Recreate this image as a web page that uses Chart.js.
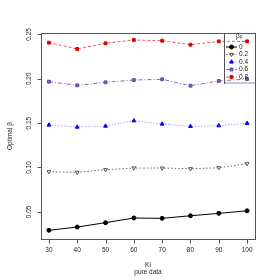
<!DOCTYPE html>
<html>
<head>
<meta charset="utf-8">
<script src="https://cdn.jsdelivr.net/npm/chart.js@4"></script>
<style>
  html, body { margin: 0; padding: 0; background: #fff; }
  #wrap { width: 280px; height: 280px; }
</style>
</head>
<body>
<div id="wrap"><canvas id="c" width="280" height="280"></canvas></div>
<script>
const ki = [30, 40, 50, 60, 70, 80, 90, 100];
const beta0  = [0.0292, 0.0329, 0.0378, 0.0431, 0.0427, 0.0456, 0.0483, 0.0512];
const beta02 = [0.0952, 0.0946, 0.0975, 0.0994, 0.0994, 0.0986, 0.0997, 0.1043];
const beta04 = [0.1479, 0.1456, 0.1467, 0.1527, 0.1490, 0.1464, 0.1471, 0.1498];
const beta06 = [0.1967, 0.1926, 0.1960, 0.1986, 0.1994, 0.1922, 0.1975, 0.1997];
const beta08 = [0.2407, 0.2336, 0.2400, 0.2437, 0.2429, 0.2384, 0.2422, 0.2422];
const seriesNames = ['0', '0.2', '0.4', '0.6', '0.8'];
const xTicks = [30, 40, 50, 60, 70, 80, 90, 100];
const yTicks = [0.05, 0.10, 0.15, 0.20, 0.25];

const FONT = '"Liberation Sans", Arial, sans-serif';
const pts = arr => arr.map((v, i) => ({ x: ki[i], y: v }));

const styles = [
  { line: '#000000', dash: [],          pt: '#000000', fill: '#000000', style: 'circle',   rot: 0,   r: 2 },
  { line: '#666666', dash: [1.5, 2],    pt: '#555555', fill: '#ffffff', style: 'triangle', rot: 180, r: 2.2 },
  { line: '#a9a9ee', dash: [1.5, 1.5],  pt: '#0000ee', fill: '#0000ee', style: 'triangle', rot: 0,   r: 2.2 },
  { line: '#8c6ab4', dash: [4, 2, 1, 2],pt: '#6a45a0', fill: '#7c5ab0', style: 'rect',     rot: 0,   r: 2 },
  { line: '#ee5c5c', dash: [3, 2],      pt: '#dd0000', fill: '#dd0000', style: 'rect',     rot: 0,   r: 2 },
];
const values = [beta0, beta02, beta04, beta06, beta08];

const datasets = values.map((v, i) => ({
  label: seriesNames[i],
  data: pts(v),
  borderColor: styles[i].line,
  borderWidth: 1,
  borderDash: styles[i].dash,
  pointStyle: styles[i].style,
  pointRotation: styles[i].rot,
  pointRadius: styles[i].r,
  pointBackgroundColor: styles[i].fill,
  pointBorderColor: styles[i].pt,
  pointBorderWidth: 1,
  tension: 0,
  fill: false,
}));

const overlay = {
  id: 'rStyle',
  afterDatasetsDraw(ch) {
    const ctx = ch.ctx;
    const xs = ch.scales.x, ys = ch.scales.y;
    const a = ch.chartArea;
    const L = Math.round(a.left) + 0.5, B = Math.round(a.bottom) + 0.5;
    ctx.save();
    // box
    ctx.strokeStyle = '#555';
    ctx.lineWidth = 1;
    ctx.strokeRect(L, Math.round(a.top) + 0.5,
                   Math.round(a.right - a.left), Math.round(a.bottom - a.top));
    // tick marks
    ctx.beginPath();
    xTicks.forEach(t => {
      const x = Math.round(xs.getPixelForValue(t)) + 0.5;
      ctx.moveTo(x, B); ctx.lineTo(x, B + 4);
    });
    yTicks.forEach(t => {
      const y = Math.round(ys.getPixelForValue(t)) + 0.5;
      ctx.moveTo(L, y); ctx.lineTo(L - 4, y);
    });
    ctx.stroke();

    ctx.fillStyle = '#222';
    ctx.font = '6.5px ' + FONT;
    // x tick labels
    ctx.textAlign = 'center'; ctx.textBaseline = 'middle';
    xTicks.forEach(t => ctx.fillText(String(t), xs.getPixelForValue(t), 250));
    // y tick labels (rotated)
    yTicks.forEach(t => {
      ctx.save();
      ctx.translate(29, ys.getPixelForValue(t));
      ctx.rotate(-Math.PI / 2);
      ctx.fillText(t.toFixed(2), 0, 0);
      ctx.restore();
    });
    // axis titles
    ctx.fillText('Ki', (a.left + a.right) / 2, 265);
    ctx.fillText('pure data', (a.left + a.right) / 2, 272);
    ctx.save();
    ctx.translate(10, (a.top + a.bottom) / 2);
    ctx.rotate(-Math.PI / 2);
    ctx.fillText('Optimal β', 0, 0);
    ctx.restore();

    // legend
    const lx = 224, ly = Math.round(a.top), lw = Math.round(a.right) - lx, lh = 50;
    ctx.strokeStyle = '#555';
    ctx.strokeRect(lx + 0.5, ly + 0.5, lw, lh);
    ctx.fillStyle = '#c8c8c8';
    ctx.fillRect(lx + 1, ly + lh - 1, lw - 1, 2);
    ctx.fillStyle = '#222';
    ctx.textAlign = 'left';
    ctx.fillText('β', 236, ly + 3);
    ctx.font = '4.5px ' + FONT;
    ctx.fillText('F', 240, ly + 5);
    ctx.font = '6.5px ' + FONT;
    ch.data.datasets.forEach((ds, i) => {
      const y = ly + 14 + i * 7.5;
      ctx.strokeStyle = ds.borderColor;
      ctx.setLineDash(ds.borderDash);
      ctx.beginPath(); ctx.moveTo(226, y); ctx.lineTo(237, y); ctx.stroke();
      ctx.setLineDash([]);
      ctx.fillStyle = ds.pointBackgroundColor;
      ctx.strokeStyle = ds.pointBorderColor;
      Chart.helpers.drawPoint(ctx, {
        pointStyle: ds.pointStyle, rotation: ds.pointRotation,
        radius: ds.pointRadius, borderWidth: 1
      }, 231.5, y);
      ctx.fillStyle = '#222';
      ctx.fillText(ds.label, 239, y);
    });
    ctx.restore();
  }
};

new Chart(document.getElementById('c'), {
  type: 'line',
  data: { datasets },
  options: {
    responsive: false,
    animation: false,
    layout: { padding: { top: 33, right: 25, left: 0, bottom: 0 } },
    plugins: { legend: { display: false }, tooltip: { enabled: false } },
    scales: {
      x: {
        type: 'linear', min: 27.2, max: 102.8,
        afterBuildTicks: s => { s.ticks = xTicks.map(v => ({ value: v })); },
        afterFit: s => { s.height = 41; },
        ticks: { display: false },
        grid: { display: false },
        border: { display: false },
      },
      y: {
        type: 'linear', min: 0.0194, max: 0.2516,
        afterBuildTicks: s => { s.ticks = yTicks.map(v => ({ value: v })); },
        afterFit: s => { s.width = 41; },
        ticks: { display: false },
        grid: { display: false },
        border: { display: false },
      }
    }
  },
  plugins: [overlay]
});
</script>
</body>
</html>
